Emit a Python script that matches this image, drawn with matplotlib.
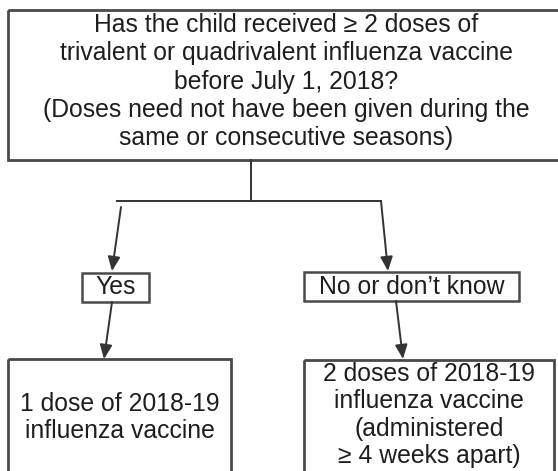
import matplotlib
matplotlib.use("Agg")
import matplotlib.pyplot as plt
from matplotlib.patches import Rectangle

plt.rcParams['font.family'] = ['Liberation Sans', 'DejaVu Sans']

question_lines = [
    "Has the child received \u2265 2 doses of",
    "trivalent or quadrivalent influenza vaccine",
    "before July 1, 2018?",
    "(Doses need not have been given during the",
    "same or consecutive seasons)",
]
yes_label = "Yes"
no_label = "No or don\u2019t know"
yes_outcome = ["1 dose of 2018-19", "influenza vaccine"]
no_outcome = ["2 doses of 2018-19", "influenza vaccine", "(administered", "\u2265 4 weeks apart)"]

W, H = 558, 471
fig = plt.figure(figsize=(W / 100, H / 100), dpi=100)
ax = fig.add_axes([0, 0, 1, 1])
ax.set_xlim(0, W)
ax.set_ylim(H, 0)
ax.axis('off')

box_col = '#4a4a4a'
line_col = '#333333'
txt_col = '#1e1e1e'
fs = 17.8


def box(x0, y0, x1, y1, lw=2.0):
    ax.add_patch(Rectangle((x0, y0), x1 - x0, y1 - y0, fill=False,
                           edgecolor=box_col, linewidth=lw, clip_on=True))


def lines(xc, ys, texts, size=fs):
    for y, t in zip(ys, texts):
        ax.text(xc, y, t, ha='center', va='center', fontsize=size, color=txt_col)


def arrow(x0, y0, x1, y1):
    ax.annotate('', xy=(x1, y1), xytext=(x0, y0),
                arrowprops=dict(arrowstyle='-|>,head_length=0.85,head_width=0.37',
                                color=line_col, lw=1.4, shrinkA=0, shrinkB=0,
                                mutation_scale=10))


# top question box
box(8, 10, 575, 160)
lines(286, [25, 53, 82, 110, 138], question_lines)

# connectors
ax.plot([251, 251], [160, 201], color=line_col, lw=1.4)
ax.plot([117, 381], [201, 201], color=line_col, lw=1.4)
arrow(121, 207, 112, 271)
arrow(381, 201, 388, 271)

# answer boxes
box(82, 273, 149, 302, lw=1.8)
lines(115.5, [287.5], [yes_label])
box(304, 272, 519, 301, lw=1.8)
lines(411.5, [287], [no_label])

arrow(112, 302, 104, 359)
arrow(396, 301, 403, 359)

# outcome boxes
box(8, 359, 231, 480)
lines(120, [404, 431], yes_outcome)
box(304, 360, 554, 480)
lines(429, [374, 401, 429, 456], no_outcome)

fig.savefig('out.png', dpi=100, facecolor='white')
